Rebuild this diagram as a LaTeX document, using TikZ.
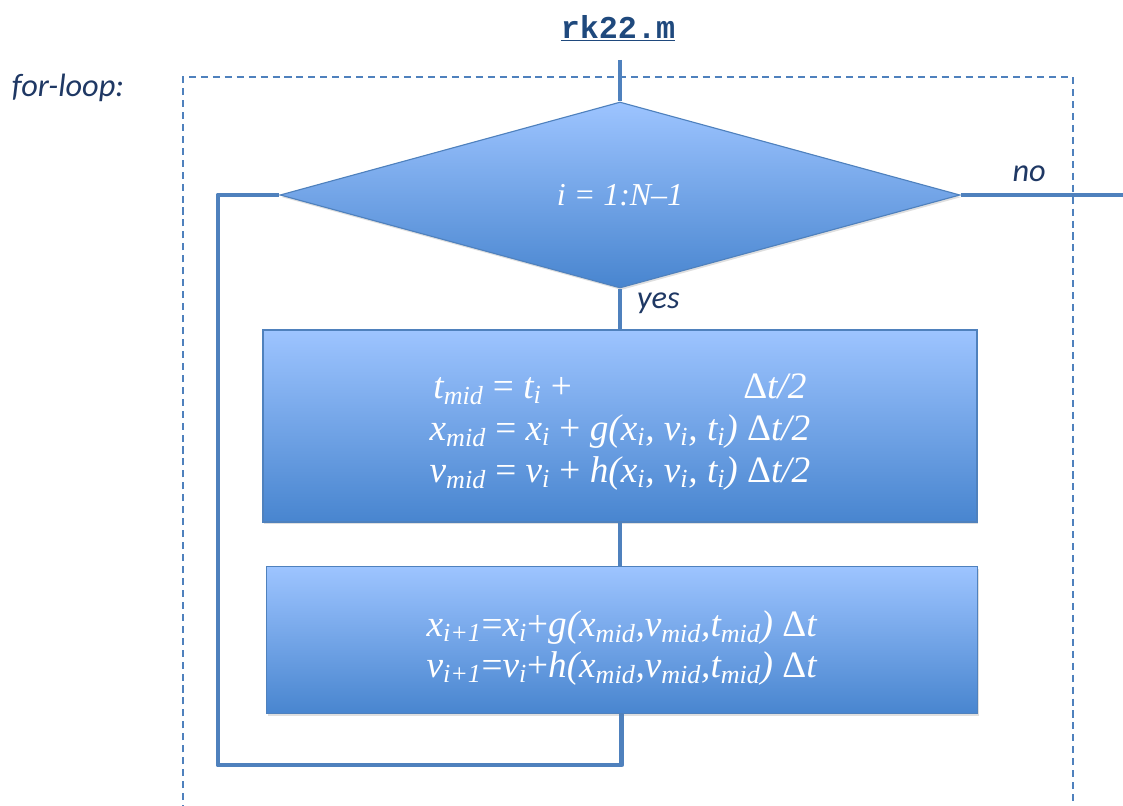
\documentclass[tikz,border=0pt]{standalone}
\usepackage{fontspec}
\setmainfont{Liberation Serif}
\newfontfamily\labelfont{Carlito}
\newfontfamily\codefont{Liberation Mono}
\usetikzlibrary{shapes.geometric,shadows}

\definecolor{lineblue}{RGB}{79,129,189}
\definecolor{boxtop}{RGB}{157,196,255}
\definecolor{boxbottom}{RGB}{72,133,207}
\definecolor{navy}{RGB}{31,56,100}
\definecolor{titleblue}{RGB}{31,73,125}

\newcommand{\low}[1]{\textsubscript{#1}}

\tikzset{
  flow/.style={draw=lineblue, line width=3.5pt, line join=round},
  frame/.style={draw=lineblue, line width=1pt, dash pattern=on 5pt off 3.5pt},
  fillbox/.style={draw=lineblue, line width=0.8pt, top color=boxtop, bottom color=boxbottom,
    drop shadow={opacity=0.25, shadow xshift=1pt, shadow yshift=-1.5pt},
    text=white, font=\itshape\fontsize{26.5}{30}\selectfont, align=center},
  note/.style={text=navy, font=\labelfont\itshape\fontsize{23}{27}\selectfont}
}

\begin{document}
\begin{tikzpicture}
  \useasboundingbox (0,0) rectangle (28.075,-20.15);
  \clip (0,0) rectangle (28.075,-20.15);

  % title and loop frame
  \node (title) at (15.45,-0.7) [text=titleblue, font=\codefont\bfseries\fontsize{22.6}{26}\selectfont] {\underline{rk22.m}};
  \node (forloop) at (1.7,-2.2) [note] {for-loop:};
  \draw[frame] (4.575,-20.3) -- (4.575,-1.925) -- (26.825,-1.925) -- (26.825,-20.3);

  % nodes
  \node (loop) at (15.5,-4.875) [diamond, fillbox, minimum width=17cm, minimum height=4.65cm, inner sep=0pt,
    font=\itshape\fontsize{22.7}{26}\selectfont] {i = 1:N–1};
  \node (mid) at (15.5,-10.65) [rectangle, fillbox, minimum width=17.85cm, minimum height=4.8cm]
    {\rule{0pt}{26pt}t\low{mid} {\upshape =} t\low{i} {\upshape +}\hspace{4.6em}{\upshape Δ}t/2\\
     x\low{mid} {\upshape =} x\low{i} {\upshape +} g(x\low{i}, v\low{i}, t\low{i}) {\upshape Δ}t/2\\
     v\low{mid} {\upshape =} v\low{i} {\upshape +} h(x\low{i}, v\low{i}, t\low{i}) {\upshape Δ}t/2};
  \node (update) at (15.54,-16.01) [rectangle, fillbox, minimum width=17.775cm, minimum height=3.675cm,
    font=\itshape\fontsize{26.5}{29}\selectfont]
    {\rule{0pt}{29pt}x\low{i+1}{\upshape =}x\low{i}{\upshape +}g(x\low{mid},v\low{mid},t\low{mid}) {\upshape Δ}t\\
     v\low{i+1}{\upshape =}v\low{i}{\upshape +}h(x\low{mid},v\low{mid},t\low{mid}) {\upshape Δ}t};

  \coordinate (start) at (15.5,-1.5);
  \coordinate (exit) at (28.3,-4.875);
  \coordinate (back) at (5.45,-19.125);

  % connectors
  \draw[flow] (start) -- (loop.north);
  \draw[flow] (loop.east) -- node[note, above, pos=0.4, yshift=0.15cm] {no} (exit);
  \draw[flow] (loop.south) -- node[note, right, pos=0.35, xshift=0.25cm] {yes} (mid.north);
  \draw[flow] (mid.south) -- (mid.south |- update.north);
  \draw[flow] (update.south) |- (back) |- (loop.west);
\end{tikzpicture}
\end{document}
